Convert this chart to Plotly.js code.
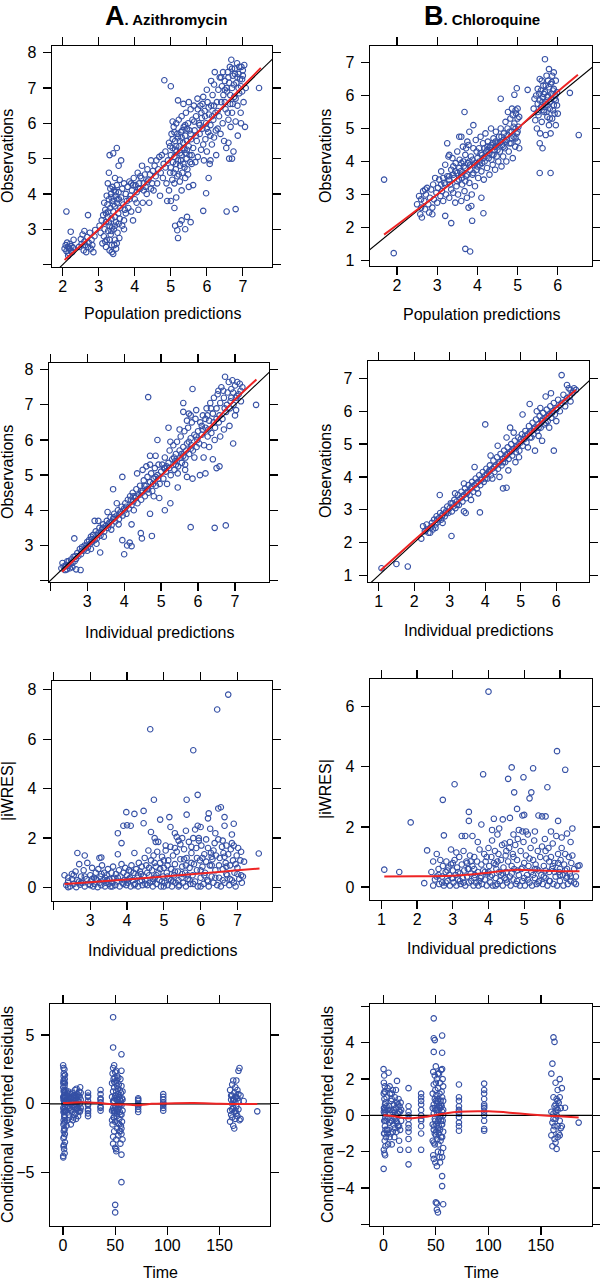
<!DOCTYPE html>
<html>
<head>
<meta charset="utf-8">
<script src="https://cdn.plot.ly/plotly-3.0.1.min.js"></script>
<style>
html, body { margin: 0; padding: 0; background: #fff; }
#graph { width: 600px; height: 1280px; }
</style>
</head>
<body>
<div id="graph"></div>
<script>
// ---- data: [x, y] pairs per panel ----

// A. Azithromycin, observations vs population predictions
const azPopPairs = [
  [2.05,2.45],[2.08,2.55],[2.1,2.38],[2.12,2.62],[2.14,2.5],[2.16,2.33],[2.18,2.45],[2.2,2.58],[2.22,2.4],[2.24,2.52],[2.26,2.35],[2.28,2.48],[2.1,3.5],[2.22,2.93],[2.3,2.7],[2.15,2.25],
  [2.45,2.5],[2.5,2.72],[2.55,2.85],[2.58,2.4],[2.6,2.95],[2.62,2.55],[2.65,2.35],[2.68,2.78],[2.7,3.4],[2.72,2.62],[2.75,2.9],[2.78,2.45],[2.8,2.7],[2.82,2.55],[2.85,2.35],[2.88,2.8],[2.9,2.98],[2.6,2.65],[2.52,2.58],[2.7,2.5],
  [3.02,3.1],[3.05,2.9],[3.08,3.25],[3.1,2.6],[3.12,3.4],[3.14,2.8],[3.16,3.0],[3.18,3.55],[3.2,2.5],[3.2,3.2],[3.22,2.7],[3.24,3.7],[3.25,3.35],[3.26,2.95],[3.28,3.85],[3.3,2.4],[3.3,3.1],[3.32,3.6],[3.33,2.85],[3.34,4.0],[3.35,3.3],[3.36,2.55],[3.38,3.8],[3.38,4.2],[3.4,2.3],[3.4,3.5],[3.42,3.0],[3.42,4.1],[3.44,3.65],[3.45,2.7],[3.46,3.95],[3.48,3.2],[3.5,4.25],[3.5,3.75],[3.52,2.9],[3.54,3.45],[3.55,4.05],[3.56,3.85],[3.58,3.3],[3.6,3.6],[3.48,2.45],[3.36,2.35],[3.25,4.3],[3.28,4.6],[3.3,5.1],[3.4,5.15],[3.5,5.3],[3.45,4.45],[3.55,4.8],[3.62,4.95],[3.58,4.4],[3.65,3.1],[3.7,3.0],[3.7,3.25],
  [3.15,3.75],[3.18,2.65],[3.22,3.95],[3.26,3.5],[3.3,2.7],[3.32,4.15],[3.35,3.9],[3.37,3.05],[3.4,3.7],[3.43,2.55],[3.45,3.35],[3.47,4.05],[3.5,2.6],[3.52,3.85],[3.55,3.15],[3.57,2.75],[3.35,2.95],[3.28,3.2],[3.2,3.45],[3.45,3.1],
  [3.62,3.9],[3.65,4.15],[3.68,3.7],[3.7,4.3],[3.72,3.55],[3.75,4.0],[3.78,3.8],[3.8,4.2],[3.82,3.6],[3.85,4.35],[3.88,3.95],[3.9,3.5],[3.92,4.1],[3.95,3.25],[3.97,4.45],[4.0,3.85],[4.02,4.25],[4.05,4.05],[4.08,4.6],[4.1,3.55],[4.12,4.3],[4.15,4.15],[4.18,4.45],[4.2,4.8],[4.22,3.75],[4.25,4.3],[4.28,4.55],[4.3,4.2],[4.33,4.0],[4.35,4.7],[4.38,4.4],[4.4,3.75],[4.42,4.55],[4.45,4.95],[4.48,4.3],[4.5,4.65],
  [3.75,3.45],[3.85,3.85],[3.95,4.25],[4.05,3.75],[4.15,4.5],[4.25,4.1],[4.35,4.35],[4.45,4.15],[3.9,4.3],[4.1,4.15],
  [4.52,4.1],[4.55,4.8],[4.58,4.5],[4.6,4.95],[4.62,4.3],[4.65,4.7],[4.68,5.05],[4.7,3.95],[4.72,4.6],[4.75,5.1],[4.78,4.45],[4.8,4.85],[4.82,7.22],[4.85,5.2],[4.88,4.3],[4.9,3.8],[4.92,4.95],[4.95,4.1],[4.98,5.35],[5.0,3.8],[5.0,7.05],[4.85,4.75],
  [4.95,5.45],[4.98,4.6],[5.0,5.1],[5.02,5.7],[5.04,4.4],[5.05,5.3],[5.06,4.9],[5.08,5.9],[5.1,4.3],[5.1,5.05],[5.12,5.5],[5.14,4.7],[5.15,6.0],[5.16,5.2],[5.18,4.5],[5.2,5.6],[5.2,4.95],[5.22,6.1],[5.24,5.35],[5.25,4.35],[5.26,4.8],[5.28,5.75],[5.3,5.1],[5.3,6.2],[5.32,4.6],[5.34,5.45],[5.35,4.85],[5.36,5.9],[5.38,5.25],[5.4,4.45],[5.4,5.65],[5.42,6.3],[5.44,5.0],[5.45,5.5],[5.46,4.7],[5.48,6.0],[5.5,5.35],[5.5,4.2],[5.52,5.8],[5.54,4.9],[5.55,6.4],[5.56,5.55],[5.58,5.1],[5.6,6.1],[5.2,6.65],[5.35,6.55],[5.5,6.6],[5.1,5.75],[5.05,6.05],
  [5.0,4.75],[5.05,5.55],[5.08,4.6],[5.12,5.25],[5.15,4.85],[5.18,5.7],[5.22,4.55],[5.25,5.15],[5.28,4.95],[5.32,5.8],[5.35,5.3],[5.38,4.75],[5.42,5.15],[5.45,5.85],[5.48,4.55],[5.52,5.1],[5.55,5.7],[5.58,4.85],[5.25,5.5],[5.15,5.35],[5.4,5.95],[5.3,5.6],[5.45,5.25],
  [5.1,3.6],[5.12,3.1],[5.18,2.97],[5.2,2.75],[5.25,3.15],[5.3,3.25],[5.4,3.0],[5.45,3.35],[5.55,3.2],[5.15,3.9],[5.3,4.1],[5.62,4.25],[5.9,3.52],[5.98,4.02],[6.05,4.45],[6.55,3.5],[6.8,3.57],
  [5.62,5.3],[5.64,6.5],[5.66,5.8],[5.68,4.9],[5.7,6.2],[5.72,5.5],[5.74,6.7],[5.75,5.05],[5.78,6.0],[5.8,5.7],[5.82,6.5],[5.84,5.25],[5.86,6.15],[5.88,5.85],[5.9,6.75],[5.92,4.95],[5.94,6.35],[5.96,5.55],[5.98,6.0],[6.0,5.2],[6.02,6.6],[6.04,5.75],[6.06,6.25],[6.08,4.85],[6.1,5.95],[6.12,6.5],[6.14,5.4],[6.16,6.8],[6.18,6.1],[6.2,5.6],[6.22,7.45],[6.24,6.3],[6.26,5.1],[6.28,6.6],[6.3,5.85],[6.12,7.2],[6.2,7.1],[6.0,6.95],[6.1,4.95],
  [5.65,6.05],[5.7,5.65],[5.75,6.4],[5.8,5.95],[5.85,6.3],[5.9,5.4],[5.95,6.2],[6.0,5.85],[6.05,6.45],[6.1,5.65],[6.15,6.2],[6.2,6.5],[6.25,5.8],[6.3,6.35],[5.88,6.55],
  [6.32,6.95],[6.34,6.2],[6.36,7.3],[6.38,5.7],[6.4,6.6],[6.42,7.05],[6.44,6.0],[6.46,6.8],[6.48,5.5],[6.5,7.2],[6.52,6.4],[6.54,5.3],[6.56,6.9],[6.58,7.45],[6.6,6.1],[6.62,5.0],[6.64,7.6],[6.65,6.55],[6.66,5.9],[6.68,7.8],[6.7,7.0],[6.7,6.3],[6.72,7.35],[6.74,5.2],[6.76,6.75],[6.78,7.55],[6.8,6.05],[6.82,7.15],[6.84,7.7],[6.85,6.5],[6.86,5.65],[6.88,7.4],[6.9,6.85],[6.92,7.25],[6.94,6.3],[6.96,7.6],[6.98,6.9],[7.0,7.35],[7.02,6.6],[7.04,7.65],[7.06,5.9],[7.08,7.0],[7.45,7.0],[6.6,5.45],[6.7,5.0],[6.95,6.0],
  [6.4,7.3],[6.45,7.45],[6.5,6.6],[6.55,7.0],[6.6,7.3],[6.65,6.8],[6.7,7.55],[6.75,7.1],[6.8,6.7],[6.85,7.3],[6.9,7.6],[6.95,7.05],[7.0,7.5],[6.62,7.15],[6.72,6.55],[6.78,7.4],[6.88,7.0],[6.98,7.25],[6.5,6.95],[6.58,6.3]
];
const azPopSmoothX = [2.05, 3, 4, 5, 6, 7, 7.5];
const azPopSmoothY = [2.13, 3.0, 4.0, 4.98, 6.0, 7.05, 7.57];

// B. Chloroquine, observations vs population predictions
const clPopPairs = [
  [1.68,3.45],[1.92,1.22],[3.7,1.35],[3.82,1.27],[3.35,2.13],[3.87,2.2],[4.15,2.43],[4.1,2.9],[3.2,2.35],[6.52,4.8],[5.55,3.65],[5.82,3.65],[5.62,4.4],[5.55,4.55],[6.3,6.08],[5.25,6.17],[4.98,6.22],[4.58,5.9],[4.92,6.02],[3.68,5.5],[3.9,5.1],[3.55,4.75],[3.8,4.9],[3.25,4.55],[3.3,4.2],[3.6,4.75],[3.75,4.6],[3.72,4.4],[3.85,2.65],[3.78,2.6],
  [2.5,2.7],[2.55,2.95],[2.58,2.4],[2.6,2.6],[2.62,2.3],[2.65,3.1],[2.68,2.8],[2.7,2.55],[2.72,3.0],[2.75,3.2],[2.78,2.7],[2.8,2.45],[2.82,2.9],[2.85,3.15],[2.88,2.6],[2.9,3.3],[2.92,2.85],[2.95,3.5],[2.98,3.05],[2.88,2.4],[2.6,2.85],[2.7,3.15],
  [3.0,2.75],[3.02,3.2],[3.05,3.45],[3.08,2.95],[3.1,3.7],[3.12,3.1],[3.15,2.8],[3.18,3.35],[3.2,3.9],[3.22,3.0],[3.25,3.55],[3.28,4.15],[3.3,2.9],[3.32,3.3],[3.35,3.75],[3.38,4.1],[3.4,3.05],[3.42,3.5],[3.45,2.75],[3.46,3.95],[3.48,3.25],[3.5,4.3],[3.5,3.65],[3.3,3.55],[3.15,3.5],[3.4,3.85],[3.1,3.3],[3.35,3.15],
  [3.52,3.0],[3.54,3.45],[3.56,4.05],[3.58,3.7],[3.6,2.8],[3.62,3.3],[3.64,4.45],[3.66,3.85],[3.68,3.1],[3.7,4.2],[3.72,3.55],[3.74,2.9],[3.76,3.95],[3.78,4.5],[3.8,3.35],[3.82,3.75],[3.84,4.15],[3.86,3.0],[3.88,3.6],[3.9,4.4],[3.92,3.9],[3.94,3.25],[3.96,4.65],[3.98,3.75],[4.0,4.1],[3.6,3.6],[3.7,3.4],[3.8,4.0],[3.9,3.65],[3.65,4.0],
  [4.02,3.5],[4.04,4.4],[4.06,3.9],[4.08,4.75],[4.1,3.7],[4.12,4.2],[4.14,4.55],[4.16,3.45],[4.18,4.0],[4.2,4.85],[4.22,4.3],[4.24,3.8],[4.26,4.6],[4.28,4.1],[4.3,3.6],[4.32,4.45],[4.34,5.0],[4.36,4.2],[4.38,3.9],[4.4,4.7],[4.42,4.35],[4.44,3.75],[4.46,4.9],[4.48,4.15],[4.5,4.55],[4.15,4.1],[4.25,4.35],[4.35,4.05],[4.45,4.45],[4.05,4.0],
  [4.52,4.0],[4.54,4.75],[4.56,4.3],[4.58,5.0],[4.6,3.85],[4.62,4.5],[4.64,4.15],[4.66,4.85],[4.68,4.4],[4.7,5.2],[4.72,4.0],[4.74,4.65],[4.76,5.5],[4.78,4.3],[4.8,4.9],[4.82,5.3],[4.84,4.55],[4.86,5.6],[4.88,4.1],[4.9,4.75],[4.92,5.15],[4.94,4.45],[4.96,5.45],[4.98,4.85],[5.0,5.6],[5.0,4.6],[5.02,5.05],[5.04,4.4],[5.04,5.35],[4.95,5.0],[4.85,4.7],[4.75,5.0],[4.65,4.65],
  [3.2,3.3],[3.3,3.45],[3.4,3.6],[3.5,3.4],[3.55,3.8],[3.62,3.5],[3.7,3.8],[3.75,3.6],[3.82,3.9],[3.88,4.05],[3.95,3.95],[4.0,3.85],[4.08,4.25],[4.12,3.95],[4.2,4.15],[4.25,4.45],[4.3,4.25],[4.35,4.5],[4.4,4.2],[4.45,4.6],[4.5,4.35],[4.55,4.55],[4.6,4.75],[4.65,4.45],[4.7,4.6],[4.75,4.8],[4.8,4.55],[4.85,4.9],[4.9,5.05],[4.95,4.7],[5.0,4.9],[5.0,5.3],[4.88,5.4],[4.95,5.55],[3.45,3.7],[3.6,3.95],[3.98,4.3],[4.18,4.4],[4.38,4.55],[4.58,4.6],
  [5.4,5.6],[5.42,5.9],[5.44,5.25],[5.46,6.0],[5.48,5.0],[5.5,5.75],[5.5,6.2],[5.52,5.4],[5.54,6.05],[5.56,4.85],[5.58,5.65],[5.6,6.45],[5.6,5.2],[5.62,5.95],[5.64,6.3],[5.66,5.5],[5.68,7.1],[5.68,6.1],[5.7,4.8],[5.7,5.8],[5.72,6.6],[5.74,5.35],[5.76,6.0],[5.78,6.8],[5.78,5.1],[5.8,5.6],[5.82,6.35],[5.82,4.85],[5.84,5.9],[5.86,6.6],[5.86,5.3],[5.88,6.15],[5.9,5.7],[5.9,6.7],[5.92,5.45],[5.94,6.0],[5.95,5.1],[5.95,6.45],[5.98,5.7],[5.98,6.1],[6.0,5.45],[5.55,6.5],[5.65,5.55],[5.75,5.7],
  [5.5,5.5],[5.55,5.85],[5.6,5.65],[5.65,6.05],[5.7,6.3],[5.72,5.5],[5.75,5.95],[5.78,6.25],[5.8,5.8],[5.84,6.05],[5.88,5.55],[5.9,6.2],[5.92,5.9],[5.62,5.8],[5.68,5.75],[5.76,6.45],[5.85,6.4],[5.95,5.85],[5.8,5.3],[5.58,6.15]
];
const clPopSmoothX = [1.68, 3, 4, 5, 6, 6.5];
const clPopSmoothY = [1.78, 3.0, 3.98, 5.0, 6.12, 6.63];

// A. Azithromycin, observations vs individual predictions
const azIndPairs = [
  [2.3,2.35],[2.33,2.5],[2.36,2.4],[2.4,2.3],[2.43,2.45],[2.46,2.55],[2.5,2.42],[2.53,2.35],[2.56,2.6],[2.6,2.5],[2.63,2.68],[2.66,2.55],[2.7,2.62],[2.73,2.78],[2.76,2.7],[2.8,2.9],[2.83,2.75],[2.86,2.95],[2.9,2.85],[2.93,3.0],[2.96,2.92],[3.0,3.1],[2.5,2.55],[2.7,2.32],[2.82,2.3],[2.6,2.38],[2.45,2.32],
  [3.02,2.95],[3.05,3.15],[3.08,3.05],[3.1,3.25],[3.13,3.1],[3.16,3.3],[3.2,3.15],[3.23,3.4],[3.26,3.2],[3.3,3.35],[3.33,3.5],[3.36,3.28],[3.4,3.45],[3.43,3.6],[3.46,3.4],[3.5,3.55],[3.53,3.7],[3.56,3.5],[3.6,3.65],[3.63,3.8],[3.66,3.58],[3.7,3.75],[3.73,3.9],[3.76,3.68],[3.8,3.85],[3.83,4.0],[3.86,3.75],[3.9,3.95],[3.93,4.1],[3.96,3.85],[4.0,4.05],[3.25,3.05],[3.45,3.25],[3.65,3.45],[3.85,3.6],[3.35,2.8],[3.1,2.9],[3.2,3.7],[3.3,3.7],[3.7,4.6],[3.95,4.95],[2.65,3.2],[3.0,2.85],[3.55,3.95],[3.8,4.2],
  [4.03,4.2],[4.06,3.9],[4.1,4.3],[4.13,4.05],[4.16,4.4],[4.2,4.15],[4.23,4.5],[4.26,4.0],[4.3,4.35],[4.33,4.6],[4.36,4.2],[4.4,4.45],[4.43,4.7],[4.46,4.3],[4.5,4.55],[4.53,4.85],[4.56,4.4],[4.6,4.7],[4.63,4.95],[4.66,4.5],[4.7,4.8],[4.73,5.05],[4.76,4.55],[4.8,4.9],[4.83,5.2],[4.86,4.7],[4.9,5.0],[4.93,5.3],[4.96,4.75],[5.0,5.1],[4.2,3.6],[4.05,4.1],[4.25,4.25],[4.45,4.55],[4.65,4.6],[4.85,4.95],[4.5,5.15],[4.7,5.3],[4.8,4.4],[4.95,4.35],[4.7,3.9],[4.65,7.22],[4.7,5.55],[4.85,5.55],[4.9,6.0],[4.35,5.05],[4.6,5.25],
  [3.95,3.15],[4.0,2.75],[4.08,3.0],[4.15,3.08],[4.2,2.98],[4.45,3.35],[4.48,3.2],[4.75,3.27],[5.8,3.52],[6.45,3.5],[6.75,3.57],[5.1,4.0],[5.25,4.2],[5.45,4.65],[6.05,5.0],[6.2,5.05],[6.4,5.45],[6.5,5.2],[6.58,5.25],[6.95,5.9],[5.85,7.45],[7.57,7.0],[5.2,6.35],[5.6,7.05],[5.6,6.8],[5.75,6.75],[5.7,6.55],[5.85,4.9],[5.7,4.95],[5.65,5.15],
  [5.03,5.3],[5.06,4.9],[5.1,5.5],[5.13,5.1],[5.16,4.75],[5.2,5.35],[5.23,5.7],[5.26,5.0],[5.3,5.45],[5.33,5.85],[5.36,5.15],[5.4,5.6],[5.43,5.95],[5.46,5.25],[5.5,5.7],[5.53,6.1],[5.56,5.35],[5.6,5.8],[5.63,6.25],[5.66,5.5],[5.7,5.9],[5.73,6.35],[5.76,5.6],[5.8,6.05],[5.83,6.5],[5.86,5.7],[5.9,6.15],[5.93,6.6],[5.96,5.8],[6.0,6.25],[5.15,5.25],[5.35,5.5],[5.55,5.6],[5.75,5.95],[5.95,6.1],[5.45,5.05],[5.65,5.3],[5.9,5.5],[5.25,5.95],[5.5,6.3],[5.8,6.7],[5.95,6.85],
  [6.03,5.9],[6.06,6.5],[6.1,6.15],[6.13,6.7],[6.16,5.85],[6.2,6.35],[6.23,6.9],[6.26,6.1],[6.3,6.55],[6.33,7.05],[6.36,6.2],[6.4,6.75],[6.43,7.2],[6.46,6.35],[6.5,6.9],[6.53,7.3],[6.56,6.5],[6.6,7.05],[6.63,7.5],[6.66,6.6],[6.7,7.2],[6.73,7.8],[6.76,6.8],[6.8,7.35],[6.83,7.65],[6.86,6.9],[6.9,7.45],[6.93,7.7],[6.96,7.0],[7.0,7.55],[7.03,6.85],[7.06,7.65],[7.1,7.3],[7.13,7.6],[7.16,7.1],[7.2,7.5],[6.15,5.5],[6.3,5.8],[6.45,6.0],[6.6,6.1],[6.7,6.3],[6.85,6.4],[7.0,6.7],[6.25,6.7],[6.55,7.4],[6.9,7.2],[7.05,7.25],[6.1,6.4],[6.35,6.9],
  [2.4,2.4],[2.55,2.48],[2.68,2.7],[2.85,2.85],[2.98,3.0],[3.12,3.18],[3.28,3.3],[3.42,3.5],[3.58,3.6],[3.72,3.8],[3.88,3.9],[4.02,4.0],[4.18,4.3],[4.32,4.4],[4.48,4.5],[4.62,4.6],[4.78,4.75],[4.92,4.9],[5.08,5.2],[5.22,5.2],[5.38,5.4],[5.52,5.5],[5.68,5.7],[5.82,5.85],[5.98,6.0],[6.12,6.3],[6.28,6.3],[6.42,6.5],[6.58,6.7],[6.72,6.9],[6.88,7.1],[7.02,7.2],[7.15,7.4],[6.68,7.4],[6.78,7.0],[6.95,7.35],[6.5,6.6],[6.2,6.6],[5.4,5.3],[5.6,5.55],[5.8,5.75],[5.1,5.2],[4.55,4.7],[4.25,4.4]
];
const azIndSmoothX = [2.32, 3, 4, 5, 6, 7, 7.58];
const azIndSmoothY = [2.25, 2.95, 3.98, 4.98, 6.0, 7.15, 7.72];

// B. Chloroquine, observations vs individual predictions
const clIndPairs = [
  [1.08,1.22],[1.5,1.35],[1.82,1.27],
  [2.2,2.12],[2.25,2.5],[2.3,2.35],[2.35,2.55],[2.4,2.3],[2.45,2.45],[2.5,2.6],[2.53,2.4],[2.56,2.7],[2.6,2.55],[2.63,2.8],[2.66,2.62],[2.7,2.75],[2.73,2.9],[2.76,2.7],[2.8,2.85],[2.83,3.0],[2.86,2.8],[2.9,2.95],[2.93,3.1],[2.96,2.9],[3.0,3.05],[2.45,2.3],[2.6,2.45],[2.72,3.45],[2.8,2.6],[2.35,2.4],
  [3.03,3.2],[3.06,2.95],[3.1,3.1],[3.13,3.3],[3.16,3.05],[3.2,3.25],[3.23,3.45],[3.26,3.15],[3.3,3.35],[3.33,3.55],[3.36,3.25],[3.4,3.45],[3.43,3.65],[3.46,3.35],[3.5,3.55],[3.53,3.75],[3.56,3.45],[3.6,3.65],[3.63,3.85],[3.66,3.55],[3.7,3.75],[3.73,3.95],[3.76,3.65],[3.8,3.85],[3.83,4.05],[3.86,3.75],[3.9,3.95],[3.93,4.15],[3.96,3.85],[4.0,4.05],[3.05,2.2],[3.85,2.92],[3.4,2.95],[3.45,2.9],[3.6,3.3],[3.8,3.5],[3.15,3.5],[3.4,3.8],[3.7,4.3],
  [4.03,4.25],[4.06,3.95],[4.1,4.15],[4.13,4.35],[4.16,4.05],[4.2,4.25],[4.23,4.5],[4.26,4.15],[4.3,4.35],[4.33,4.6],[4.36,4.25],[4.4,4.45],[4.43,4.7],[4.46,4.35],[4.5,4.55],[4.53,4.8],[4.56,4.45],[4.6,4.65],[4.63,4.9],[4.66,4.55],[4.7,4.75],[4.73,5.0],[4.76,4.65],[4.8,4.85],[4.83,5.1],[4.86,4.75],[4.9,4.95],[4.93,5.2],[4.96,4.8],[5.0,5.05],[4.0,5.6],[4.5,3.65],[4.6,3.67],[4.2,3.95],[4.4,4.0],[4.65,4.2],[4.85,4.45],[4.35,4.95],[4.7,5.5],[4.6,5.2],[4.8,5.35],[4.15,4.65],[4.95,4.6],
  [5.03,5.3],[5.06,4.95],[5.1,5.15],[5.13,5.4],[5.16,5.05],[5.2,5.3],[5.23,5.55],[5.26,5.2],[5.3,5.4],[5.33,5.65],[5.36,5.3],[5.4,5.5],[5.43,5.75],[5.46,5.4],[5.5,5.6],[5.53,5.85],[5.56,5.5],[5.6,5.7],[5.63,5.95],[5.66,5.6],[5.7,5.8],[5.73,6.05],[5.76,5.7],[5.8,5.9],[5.83,6.15],[5.86,5.8],[5.9,6.0],[5.93,6.25],[5.96,5.9],[6.0,6.1],[6.05,6.35],[6.1,6.0],[6.15,6.25],[6.2,6.5],[6.25,6.15],[6.3,6.4],[6.35,6.7],[6.4,6.3],[6.45,6.55],[6.5,6.7],[6.55,6.65],[5.93,4.8],[6.15,7.1],[5.25,6.22],[5.05,5.9],[5.4,4.8],[5.6,5.1],[5.2,4.9],[5.5,5.25],[5.8,5.5],[6.0,5.7],[5.7,6.45],[5.85,6.55],[6.3,6.8],[5.45,6.0],[5.55,6.1],[6.4,6.65],
  [2.5,2.5],[2.65,2.7],[2.78,2.8],[2.9,2.9],[3.08,3.2],[3.2,3.15],[3.35,3.4],[3.48,3.5],[3.62,3.7],[3.75,3.8],[3.88,3.9],[4.0,3.95],[4.12,4.2],[4.25,4.3],[4.38,4.4],[4.5,4.45],[4.62,4.7],[4.75,4.8],[4.88,4.9],[5.0,5.15],[5.12,5.25],[5.25,5.35],[5.38,5.45],[5.5,5.5],[5.62,5.75],[5.75,5.85],[5.88,5.95],[6.0,6.05],[6.12,6.2],[6.25,6.3],[6.38,6.45],[6.48,6.6],[5.3,5.2],[5.7,5.65],[4.55,4.6],[4.05,4.1]
];
const clIndSmoothX = [1.05, 2, 3, 4, 5, 6, 6.55];
const clIndSmoothY = [1.15, 2.07, 3.02, 4.0, 5.05, 6.12, 6.65];

// A. Azithromycin, |iWRES| vs individual predictions
const azAbsPairs = [
  [2.3,0.5],[2.35,0.1],[2.4,0.25],[2.45,0.05],[2.5,0.35],[2.55,0.15],[2.6,0.65],[2.62,0.02],[2.65,0.3],[2.7,0.95],[2.72,0.12],[2.75,0.45],[2.8,0.2],[2.82,0.7],[2.85,0.05],[2.9,0.35],[2.92,1.0],[2.95,0.15],[3.0,0.5],[3.02,0.25],[3.05,0.8],[3.08,0.05],[3.1,0.4],[3.12,0.15],[3.15,0.6],[3.18,0.3],[3.2,0.02],[3.22,0.75],[3.25,0.2],[3.28,0.45],[3.3,0.1],[3.32,0.9],[3.35,0.3],[3.38,0.6],[3.4,0.05],[3.42,0.2],[3.45,0.5],[3.48,0.75],[3.5,0.15],[2.65,1.4],[2.85,1.3],[3.25,1.2],[3.3,1.22],[2.5,0.55],[2.75,0.2],[3.05,0.35],[3.4,0.4],[2.4,0.02],
  [3.52,0.35],[3.55,0.05],[3.58,0.6],[3.6,0.2],[3.62,0.85],[3.65,0.4],[3.68,0.1],[3.7,0.55],[3.72,0.25],[3.75,1.35],[3.78,0.7],[3.8,0.05],[3.82,0.45],[3.85,0.95],[3.88,0.2],[3.9,0.6],[3.92,0.3],[3.95,0.8],[3.98,0.1],[4.0,0.5],[4.02,0.2],[4.05,0.7],[4.08,0.4],[4.1,0.05],[4.12,0.9],[4.15,0.3],[4.18,0.6],[4.2,1.4],[4.22,0.15],[4.25,0.75],[4.28,0.4],[4.3,0.05],[4.32,1.0],[4.35,0.25],[4.38,0.55],[4.4,0.85],[4.42,0.1],[4.45,0.45],[4.48,1.2],[3.75,2.2],[3.85,1.8],[3.9,2.5],[4.0,2.52],[4.1,2.5],[3.98,3.05],[4.2,2.98],[4.45,3.1],[4.45,2.6],[3.6,0.35],[4.0,0.3],[4.3,0.5],[4.1,0.65],
  [4.5,0.3],[4.52,0.9],[4.55,0.1],[4.58,1.5],[4.6,0.5],[4.62,0.2],[4.65,1.1],[4.68,0.7],[4.7,0.05],[4.72,1.3],[4.75,0.4],[4.78,0.85],[4.8,0.15],[4.82,1.45],[4.85,0.6],[4.88,0.3],[4.9,1.0],[4.92,0.05],[4.95,1.25],[4.98,0.45],[5.0,0.8],[5.02,0.2],[5.05,1.5],[5.08,0.6],[5.1,0.1],[5.12,1.1],[5.15,0.35],[5.18,1.65],[5.2,0.75],[5.22,0.05],[5.25,1.3],[5.28,0.5],[5.3,0.95],[5.32,0.2],[5.35,1.45],[5.38,0.65],[5.4,1.9],[5.42,0.1],[5.45,1.15],[5.48,0.4],[5.5,0.85],[4.63,6.4],[4.73,3.55],[4.65,2.25],[4.75,2.0],[4.78,1.85],[4.85,1.85],[4.9,2.75],[5.15,2.85],[5.18,2.45],[5.35,2.05],[5.3,2.2],[5.45,1.75],[5.05,1.7],[4.55,0.6],[4.7,0.35],[4.95,0.25],[5.1,0.45],[5.25,0.25],[5.4,0.3],
  [5.52,0.2],[5.55,1.55],[5.58,0.6],[5.6,0.05],[5.62,1.2],[5.65,0.35],[5.68,1.85],[5.7,0.8],[5.72,0.15],[5.75,1.4],[5.78,0.5],[5.8,2.0],[5.82,0.95],[5.85,0.25],[5.88,1.6],[5.9,0.7],[5.92,0.05],[5.95,1.9],[5.98,1.1],[6.0,0.4],[6.02,1.7],[6.05,0.85],[6.08,0.15],[6.1,1.35],[6.12,0.6],[6.15,1.05],[6.18,0.3],[6.2,1.6],[6.22,0.05],[6.25,0.9],[6.28,1.4],[6.3,0.45],[6.32,1.15],[6.35,0.2],[6.38,1.8],[6.4,0.7],[6.42,1.3],[6.45,0.1],[6.48,1.95],[5.8,5.55],[5.92,3.75],[5.62,3.55],[5.62,2.95],[5.5,2.0],[5.6,2.3],[5.85,2.35],[5.92,2.5],[6.0,2.45],[6.2,2.8],[6.22,3.0],[6.26,2.38],[6.45,7.2],[6.48,3.2],[5.95,2.0],[6.15,1.95],[6.4,2.2],[5.65,0.5],[6.0,0.7],[6.3,0.9],[5.75,1.0],
  [6.5,0.4],[6.52,1.2],[6.55,0.05],[6.58,1.65],[6.6,0.75],[6.62,1.4],[6.65,0.2],[6.68,1.0],[6.7,1.7],[6.72,0.5],[6.75,1.35],[6.78,0.1],[6.8,0.9],[6.82,1.55],[6.85,0.3],[6.88,1.1],[6.9,1.7],[6.92,0.6],[6.95,0.05],[6.98,1.3],[7.0,0.8],[7.02,1.6],[7.05,0.35],[7.08,1.1],[7.1,0.5],[7.12,0.2],[7.15,0.45],[7.18,1.05],[6.55,3.25],[6.65,2.85],[6.65,2.5],[6.75,7.8],[6.9,2.58],[6.85,2.15],[7.58,1.38],[6.6,1.9],[6.7,0.55],[6.95,0.95],[7.1,1.45],
  [2.4,0.4],[2.55,0.5],[2.7,0.25],[2.85,0.45],[3.0,0.1],[3.15,0.35],[3.3,0.55],[3.45,0.3],[3.6,0.05],[3.75,0.4],[3.9,0.15],[4.05,0.35],[4.2,0.1],[4.35,0.65],[4.5,0.15],[4.6,0.8],[4.7,0.25],[4.8,0.5],[4.9,0.75],[5.0,0.05],[5.1,0.9],[5.2,0.3],[5.3,0.65],[5.4,0.05],[5.5,0.55],[5.6,0.9],[5.7,0.3],[5.8,0.15],[5.9,1.2],[6.0,0.05],[6.1,0.5],[6.2,0.25],[6.3,1.25],[6.4,0.4],[6.5,0.9],[6.6,0.3],[6.7,0.85],[6.8,0.35],[6.9,0.2],[7.0,0.55],[5.0,1.1],[5.3,1.6],[5.55,1.15],[5.75,1.65],[6.05,1.2],[6.35,1.5],[6.65,1.25],[6.85,1.8],[4.75,1.0],[4.4,0.3]
];
const azAbsSmoothX = [2.3, 3, 4, 5, 6, 7, 7.6];
const azAbsSmoothY = [0.15, 0.22, 0.33, 0.45, 0.57, 0.7, 0.77];

// B. Chloroquine, |iWRES| vs individual predictions
const clAbsPairs = [
  [1.08,0.58],[1.5,0.5],[1.82,2.15],[2.2,0.13],[2.28,1.22],[2.45,0.05],[2.72,2.9],[2.75,1.72],[3.05,3.42],[3.45,2.5],[3.45,2.2],[3.8,2.08],[3.85,3.75],[4.0,6.5],[4.15,2.27],[4.4,2.25],[4.55,3.6],[4.6,2.3],[4.65,3.98],[4.72,3.15],[4.8,2.6],[4.95,2.38],[5.0,2.4],[5.15,2.95],[5.2,3.15],[5.25,3.95],[4.98,3.65],[5.4,2.38],[5.5,2.35],[5.6,2.35],[5.65,3.32],[5.92,4.52],[5.95,2.2],[6.15,3.9],[6.2,1.78],[6.35,1.95],[6.3,1.5],[6.4,0.15],[3.25,1.7],[3.35,1.7],[3.1,1.15],[2.95,1.25],[3.55,1.7],[4.1,1.9],[4.25,1.75],[4.3,1.95],[4.95,1.85],[5.05,1.85],[5.3,1.85],[5.75,1.85],[6.05,1.65],
  [2.4,0.5],[2.45,0.85],[2.5,0.25],[2.55,1.1],[2.6,0.6],[2.62,0.1],[2.65,0.9],[2.7,0.35],[2.72,0.7],[2.75,0.05],[2.8,0.5],[2.82,0.85],[2.85,0.2],[2.88,0.65],[2.9,0.4],[2.92,0.05],[2.95,0.75],[2.98,0.3],[3.0,0.55],[3.02,0.15],[3.05,0.9],[3.08,0.4],[3.1,0.05],[3.12,0.65],[3.15,0.25],[3.18,1.0],[3.2,0.45],[3.22,0.1],[3.25,0.75],[3.28,0.3],[3.3,1.2],[3.32,0.55],[3.35,0.05],[3.38,0.85],[3.4,0.35],[3.42,0.6],[3.45,0.15],[3.48,1.05],[3.5,0.45],[2.6,0.4],[2.8,0.15],[3.0,0.8],[3.2,0.2],[3.4,0.8],
  [3.52,0.2],[3.55,0.7],[3.58,0.05],[3.6,1.0],[3.62,0.4],[3.65,0.15],[3.68,0.85],[3.7,0.5],[3.72,0.05],[3.75,1.25],[3.78,0.3],[3.8,0.75],[3.82,0.1],[3.85,0.55],[3.88,1.1],[3.9,0.25],[3.92,0.85],[3.95,0.05],[3.98,0.45],[4.0,1.3],[4.02,0.7],[4.05,0.15],[4.08,1.0],[4.1,0.4],[4.12,0.05],[4.15,0.8],[4.18,1.2],[4.2,0.3],[4.22,0.6],[4.25,0.1],[4.28,1.1],[4.3,0.5],[4.32,0.2],[4.35,0.9],[4.38,1.4],[4.4,0.05],[4.42,0.65],[4.45,0.3],[4.48,1.05],[3.6,0.6],[3.8,0.35],[4.0,0.5],[4.2,0.75],[4.4,0.45],[3.7,1.5],[4.1,1.55],[4.45,1.45],
  [4.5,0.5],[4.52,0.15],[4.55,0.85],[4.58,1.3],[4.6,0.35],[4.62,0.05],[4.65,0.7],[4.68,1.1],[4.7,0.25],[4.72,0.6],[4.75,1.4],[4.78,0.1],[4.8,0.9],[4.82,1.6],[4.85,0.4],[4.88,0.05],[4.9,1.2],[4.92,0.6],[4.95,0.2],[4.98,1.5],[5.0,0.8],[5.02,0.05],[5.05,1.05],[5.08,0.4],[5.1,1.75],[5.12,0.7],[5.15,0.15],[5.18,1.3],[5.2,0.5],[5.22,0.05],[5.25,0.9],[5.28,1.55],[5.3,0.3],[5.32,0.75],[5.35,0.1],[5.38,1.2],[5.4,0.55],[5.42,0.2],[5.45,1.0],[5.48,0.4],[5.5,1.35],[4.7,1.75],[4.85,1.9],[4.6,1.5],[5.0,0.3],[5.3,0.6],[4.8,0.55],
  [5.52,0.1],[5.55,0.7],[5.58,1.6],[5.6,0.3],[5.62,0.95],[5.65,0.05],[5.68,1.3],[5.7,0.5],[5.72,0.2],[5.75,1.0],[5.78,0.6],[5.8,1.45],[5.82,0.1],[5.85,0.8],[5.88,0.35],[5.9,1.7],[5.92,0.05],[5.95,1.1],[5.98,0.5],[6.0,0.2],[6.02,0.9],[6.05,1.3],[6.08,0.4],[6.1,0.05],[6.12,0.75],[6.15,1.1],[6.18,0.3],[6.2,0.6],[6.22,0.1],[6.25,1.0],[6.28,0.45],[6.3,0.2],[6.32,0.8],[6.35,1.05],[6.4,0.6],[6.45,0.35],[6.5,0.7],[6.55,0.72],[5.6,0.55],[5.8,0.7],[6.0,0.6],[6.2,0.35],[5.7,0.85],
  [2.55,0.35],[2.7,0.15],[2.85,0.55],[3.0,0.3],[3.15,0.5],[3.3,0.15],[3.45,0.6],[3.6,0.3],[3.75,0.2],[3.9,0.5],[4.05,0.35],[4.2,0.05],[4.35,0.4],[4.5,0.25],[4.65,0.45],[4.8,0.2],[4.95,0.65],[5.1,0.25],[5.25,0.4],[5.4,0.15],[5.55,0.35],[5.7,0.2],[5.85,0.5],[6.0,0.4],[6.15,0.55],[6.3,0.35],[6.45,0.1],[4.25,0.85],[4.7,1.0],[5.15,0.95],[5.6,1.2],[5.95,0.8],[3.95,1.0],[3.5,0.85],[4.5,1.2],[5.35,0.6]
];
const clAbsSmoothX = [1.08, 2, 3, 3.5, 4, 4.5, 4.8, 5.2, 6, 6.55];
const clAbsSmoothY = [0.35, 0.36, 0.38, 0.42, 0.48, 0.55, 0.58, 0.56, 0.53, 0.53];

// A. Azithromycin, CWRES vs time
const azTimePairs = [
  [0.2,2.8],[0.3,-3.9],[0.4,1.5],[0.5,-2.5],[0.6,0.3],[0.7,-1.2],[0.8,2.2],[0.9,-0.4],[1.0,1.0],[1.1,-3.3],[1.2,0.6],[1.3,-1.8],[1.4,2.5],[1.5,-0.8],[1.6,0.1],[1.7,1.8],[1.8,-2.2],[1.9,0.8],[2.0,-0.2],[0.3,1.2],[0.5,-1.5],[0.7,2.0],[0.9,-3.0],[1.1,0.4],[1.3,-0.6],[1.5,1.3],[1.7,-1.0],[1.9,-2.8],[0.4,-0.3],[0.6,1.7],[0.8,-2.0],[1.0,0.2],[1.2,-1.4],[1.4,0.9],[1.6,-3.6],[1.8,1.5],[2.2,0.5],[2.4,-0.5],[0.2,-3.8],[0.5,2.6],
  [0.3,0.5],[0.5,-0.6],[0.7,0.9],[0.9,1.6],[1.1,-2.4],[1.3,0.0],[1.5,-1.9],[1.7,0.5],[1.9,2.1],[0.6,-3.1],[1.2,-0.9],[1.8,-0.5],
  [2.5,1.0],[3,-0.5],[3.5,0.6],[4,-1.2],[4.5,0.2],[5,0.9],[5.5,-0.8],[6,0.4],[6.5,-0.3],[7,0.7],[7.5,-1.5],[8,0.1],[8.5,0.8],[9,-0.6],[9.5,0.3],[10,-1.0],[10.5,0.6],[11,-0.2],[11.5,1.0],[12,-0.7],[12.5,0.4],[13,1.1],[13.5,-0.4],[14,0.7],[14.5,-0.9],[15,0.2],[15.5,0.9],[16,-0.6],[16.5,1.2],[17,0.3],[3,0.3],[4,0.8],[5,-0.2],[6,-1.0],[7,0.0],[8,-0.4],[9,0.5],[10,0.1],[11,-0.8],[12,0.6],[13,-0.1],[14,0.2],[15,-0.5],[16,0.5],[17,-0.3],[2,-1.3],[3.5,-1.6],[5.5,0.5],[9.5,-1.2],[12.5,-1.1],[16.5,-0.5],
  [4,0.1],[6,0.2],[8,0.4],[10,0.6],[12,0.0],[14,-0.3],[16,0.0],[5,0.3],[7,-0.5],[9,-0.1],[11,0.4],[13,0.5],[15,0.6],[17,0.8],
  [24,0.8],[24,0.5],[24,0.2],[24,-0.1],[24,-0.4],[24,-0.7],[24,-0.9],[24,0.6],[24,0.0],[24,-0.5],
  [36,1.0],[36,0.7],[36,0.4],[36,0.1],[36,-0.2],[36,-0.5],[36,0.3],[36,-0.3],
  [47,1.5],[47,-0.5],[47,0.5],[47.5,2.2],[47.5,-1.5],[48,6.3],[48,4.1],[48,2.6],[48,-2.4],[48,0.9],[48,-0.3],[48.5,1.8],[48.5,-1.0],[49,2.8],[49,0.2],[49,-2.0],[49,1.2],[49.5,-0.7],[49.5,1.9],[50,-3.2],[50,0.6],[50,-1.3],[50,2.3],[50,-7.35],[50,-7.9],[50.5,-0.2],[50.5,1.5],[51,-3.45],[51,-3.3],[51,0.9],[51,-2.6],[51.5,1.7],[51.5,-0.9],[52,0.3],[52,-1.8],[52,2.0],[52.5,-0.4],[52.5,1.1],[53,-1.4],[53,0.7],[53,-2.3],[53.5,1.4],[53.5,-0.1],[54,-1.1],[54,0.5],[54,-2.0],[54.5,1.0],[54.5,-0.6],[55,-2.9],[55,1.8],[55,0.0],[55.5,-1.6],[55.5,0.8],[56,3.6],[56,-5.7],[56,-3.7],[56,2.4],[56,-2.2],[56,-0.8],[56,1.3],[56.5,0.4],[56.5,-1.3],[57,-2.6],[57,0.9],[57,-0.5],[48,-2.9],[49,-1.0],[51,2.4],[53,1.9],[55,-2.0],[47,-1.2],
  [48,0.2],[48.5,-0.5],[49,-0.5],[49.5,0.4],[50,-0.3],[50.5,0.6],[51,-0.4],[51.5,0.3],[52,-0.6],[52.5,0.0],[53,-0.4],[53.5,0.5],[54,-0.2],[54.5,0.3],[55,-0.8],[55.5,0.2],[56,-0.1],[57,0.3],[49,1.6],[52,1.3],[54,-1.5],[56,-1.8],
  [72,0.4],[72,0.2],[72,0.0],[72,-0.2],[72,-0.4],[72,-0.6],[72,0.3],[72,-0.1],
  [96,0.7],[96,0.5],[96,0.3],[96,0.1],[96,-0.1],[96,-0.3],[96,-0.5],[96,0.0],
  [160,1.0],[160,-0.5],[160,-1.3],[161,0.6],[161,-0.8],[162,1.4],[162,0.0],[162,-1.0],[163,1.7],[163,0.3],[163,-0.3],[163,-1.6],[164,-1.8],[164,0.8],[164,-0.6],[165,1.2],[165,0.1],[165,-1.1],[166,1.7],[166,-0.2],[166,0.5],[167,-0.9],[167,1.0],[168,2.4],[168,-0.4],[168,0.2],[169,2.6],[169,-1.2],[170,-1.1],[170,0.6],[173,0.2],[161,0.3],[165,-0.5],[167,0.4],[162,-0.4],
  [162,0.6],[164,0.3],[166,-0.7],[168,0.7],[165,0.5],
  [186,-0.55]
];
const azTimeSmoothX = [0, 12, 25, 36, 50, 60, 72, 85, 100, 125, 150, 170, 186];
const azTimeSmoothY = [0.05, 0.1, 0.1, 0.05, -0.05, -0.05, -0.1, 0.0, 0.03, 0.05, 0.0, -0.02, -0.02];

// B. Chloroquine, CWRES vs time
const clTimePairs = [
  [0.2,2.55],[0.3,-2.95],[0.4,1.2],[0.5,-1.9],[0.6,0.4],[0.7,-1.0],[0.8,2.2],[0.9,-0.3],[1.0,0.9],[1.1,-2.1],[1.2,0.1],[1.3,-1.4],[1.4,1.6],[1.5,-0.6],[1.6,0.6],[1.7,-2.2],[1.8,1.3],[1.9,-0.1],[2,0.7],[2.5,-1.2],[3,1.0],[3.5,-0.8],[4,0.3],[4.5,-1.6],[5,2.35],[5.5,0.5],[6,-0.4],[6.5,1.2],[7,-1.0],[7.5,0.8],[8,-1.6],[8.5,0.2],[9,1.4],[9.5,-0.5],[10,0.6],[10.5,-1.2],[11,1.0],[11.5,-0.2],[12,0.4],[12.5,-0.9],[13,1.9],[13.5,0.1],[14,-0.6],[14.5,0.9],[15,-1.4],[15.5,0.5],[16,-1.9],[16.5,0.7],[17,-0.3],[17,0.3],[3,-0.3],[5,-0.8],[7,0.3],[9,-0.9],[11,0.2],[13,-0.4],[15,0.2],[2,-1.7],[4,1.5],[6,1.6],[8,0.9],[10,-0.1],[12,1.4],[14,0.6],[16,-0.8],[0.5,1.8],[1,-1.0],[1.5,0.3],
  [0.5,0.2],[1,0.4],[1.5,-0.3],[2,0.2],[3,0.5],[4,-0.2],[6,0.1],[8,-0.3],[10,0.3],[12,-0.3],[14,0.1],[16,0.2],[1,1.3],[2,-0.8],[4,-1.0],[6,-1.2],[8,1.2],[11,-0.7],[13,0.7],[15,-0.6],
  [24,1.5],[24,0.5],[24,0.2],[24,-0.2],[24,-0.5],[24,-0.9],[24,-1.3],[24,-1.9],[24,-2.7],[24,0.0],[24,-0.7],
  [36,1.2],[36,1.0],[36,0.6],[36,0.3],[36,0.0],[36,-0.3],[36,-0.6],[36,-1.0],[36,-1.9],[36,0.8],[36,-0.2],
  [47,1.2],[47,-0.5],[47,0.4],[47,-1.4],[47.5,2.4],[47.5,-2.2],[48,5.35],[48,4.25],[48,3.5],[48,1.7],[48,-0.8],[48,0.6],[48,-2.4],[49,4.15],[49,2.2],[49,-0.2],[49,-1.6],[49,0.9],[49.5,1.4],[49.5,-2.6],[50,-4.8],[50,0.3],[50,-1.1],[50,2.7],[50.5,-0.5],[50.5,1.1],[51,-4.85],[51,-5.2],[51,-2.8],[51,0.7],[51,2.0],[51.5,-1.3],[51.5,0.1],[52,-5.35],[52,1.5],[52,-0.7],[52,-2.0],[52.5,0.9],[52.5,-1.6],[53,2.3],[53,-0.2],[53,-1.0],[53.5,1.2],[53.5,-2.3],[54,0.4],[54,-0.8],[54,1.8],[54.5,-1.4],[54.5,0.0],[55,2.5],[55,-2.05],[55,0.6],[55.5,-0.5],[55.5,1.3],[56,4.4],[56,3.45],[56,-3.35],[56,-3.9],[56,2.55],[56,-1.2],[56,0.2],[56,1.0],[56.5,-0.3],[56.5,2.0],[57,-4.9],[57,-1.8],[57,0.8],[57,-0.9],[57,1.6],[48,-1.5],[50,1.8],[53,0.5],[55,-1.2],[57,0.0],
  [48,0.1],[48.5,-0.6],[49,0.4],[49.5,-0.3],[50,0.8],[50.5,-0.9],[51,0.3],[51.5,0.8],[52,-0.3],[52.5,0.3],[53,-0.6],[53.5,0.5],[54,-0.1],[54.5,0.8],[55,-0.3],[55.5,0.5],[56,-0.5],[57,0.3],[49,-1.0],[52,2.3],[54,-2.6],[56,-2.3],
  [72,1.7],[72,1.0],[72,0.8],[72,0.5],[72,0.3],[72,0.1],[72,-0.1],[72,-0.4],[72,-0.6],[72,-0.85],[72,0.2],
  [96,1.75],[96,1.4],[96,1.2],[96,0.9],[96,0.6],[96,0.4],[96,0.2],[96,0.0],[96,-0.3],[96,-0.75],[96,-0.85],[96,0.5],
  [160,2.3],[160,-1.1],[160,0.2],[161,2.85],[161,-0.4],[161,-1.7],[162,4.3],[162,1.0],[162,-0.8],[163,4.05],[163,0.5],[163,-1.3],[164,1.8],[164,-0.2],[164,-1.5],[165,0.9],[165,-1.85],[165,0.0],[166,1.4],[166,-0.6],[166,0.3],[167,-1.0],[167,0.7],[168,2.0],[168,-0.3],[168,1.0],[169,-0.7],[169,0.4],[170,-0.6],[170,1.5],[173,0.42],[162,0.1],[164,0.6],[166,-1.2],[168,-1.1],
  [162,-0.2],[164,0.2],[166,0.8],[163,-0.6],[165,0.4],
  [186,-0.4]
];
const clTimeSmoothX = [0, 10, 20, 30, 40, 50, 60, 72, 90, 100, 120, 140, 160, 175, 186];
const clTimeSmoothY = [0.0, -0.05, -0.15, -0.15, -0.08, 0.02, 0.12, 0.2, 0.23, 0.22, 0.15, 0.05, -0.03, -0.08, -0.12];

// reference lines: identity (y = x) and zero
const identityLine = [-20, 20];
const zeroLineX = [-100, 400];
const zeroLineY = [0, 0];

// ---- layout helpers ----
const W = 600, H = 1280;
const BLUE = '#3550a5';
const RED = '#ee2424';
const FONT = 'Liberation Sans, Arial, Helvetica, sans-serif';

function xdom(left, right) { return [left / W, right / W]; }
function ydom(top, bottom) { return [1 - bottom / H, 1 - top / H]; }

function pointsTrace(pairs, n) {
    return {
        x: pairs.map(p => p[0]),
        y: pairs.map(p => p[1]),
        xaxis: 'x' + n, yaxis: 'y' + n,
        mode: 'markers', type: 'scatter',
        marker: {symbol: 'circle-open', size: 5.5, color: BLUE, line: {width: 1.1}},
        hoverinfo: 'skip'
    };
}

function lineTrace(x, y, n, color, width) {
    return {
        x: x, y: y,
        xaxis: 'x' + n, yaxis: 'y' + n,
        mode: 'lines', type: 'scatter',
        line: {color: color, width: width, shape: 'spline', smoothing: 0.6},
        hoverinfo: 'skip'
    };
}

function axis(domain, range, tickvals, hidden, standoff) {
    return {
        domain: domain,
        range: range,
        tickvals: tickvals,
        ticktext: tickvals.map(v => (hidden || []).includes(v) ? '' : String(v).replace('-', '\u2212')),
        ticks: 'outside', ticklen: 8, tickwidth: 1.3, tickcolor: '#000',
        ticklabelstandoff: standoff,
        showline: true, linecolor: '#000', linewidth: 1.4, mirror: 'allticks',
        showgrid: false, zeroline: false,
        tickfont: {family: FONT, size: 16, color: '#000'},
        fixedrange: true
    };
}
function xaxisOf(domain, range, tickvals, hidden) { return axis(domain, range, tickvals, hidden, -4); }
function yaxisOf(domain, range, tickvals, hidden) { return axis(domain, range, tickvals, hidden, 3); }

function axisTitle(text, px, py, vertical) {
    return {
        text: text, xref: 'paper', yref: 'paper',
        x: px / W, y: 1 - py / H, xanchor: 'center', yanchor: 'middle',
        textangle: vertical ? -90 : 0, showarrow: false,
        font: {family: FONT, size: 16, color: '#000'}
    };
}

const traces = [
    pointsTrace(azPopPairs, 1), lineTrace(identityLine, identityLine, 1, '#000', 1.1), lineTrace(azPopSmoothX, azPopSmoothY, 1, RED, 2),
    pointsTrace(clPopPairs, 2), lineTrace(identityLine, identityLine, 2, '#000', 1.1), lineTrace(clPopSmoothX, clPopSmoothY, 2, RED, 2),
    pointsTrace(azIndPairs, 3), lineTrace(identityLine, identityLine, 3, '#000', 1.1), lineTrace(azIndSmoothX, azIndSmoothY, 3, RED, 2),
    pointsTrace(clIndPairs, 4), lineTrace(identityLine, identityLine, 4, '#000', 1.1), lineTrace(clIndSmoothX, clIndSmoothY, 4, RED, 2),
    pointsTrace(azAbsPairs, 5), lineTrace(azAbsSmoothX, azAbsSmoothY, 5, RED, 2),
    pointsTrace(clAbsPairs, 6), lineTrace(clAbsSmoothX, clAbsSmoothY, 6, RED, 2),
    pointsTrace(azTimePairs, 7), lineTrace(zeroLineX, zeroLineY, 7, '#000', 1.3), lineTrace(azTimeSmoothX, azTimeSmoothY, 7, RED, 2),
    pointsTrace(clTimePairs, 8), lineTrace(zeroLineX, zeroLineY, 8, '#000', 1.3), lineTrace(clTimeSmoothX, clTimeSmoothY, 8, RED, 2)
];
// first trace uses plain 'x'/'y'
traces.forEach(t => { if (t.xaxis === 'x1') { t.xaxis = 'x'; t.yaxis = 'y'; } });

const layout = {
    width: W, height: H,
    margin: {l: 0, r: 0, t: 0, b: 0},
    paper_bgcolor: '#fff', plot_bgcolor: '#fff',
    showlegend: false,
    font: {family: FONT, color: '#000'},

    xaxis:  xaxisOf(xdom(52, 272),  [1.70, 7.81], [2, 3, 4, 5, 6, 7]),
    yaxis:  yaxisOf(ydom(46, 267),  [1.93, 8.19], [2, 3, 4, 5, 6, 7, 8], [2]),
    xaxis2: xaxisOf(xdom(370, 592), [1.33, 6.85], [2, 3, 4, 5, 6]),
    yaxis2: yaxisOf(ydom(46, 266),  [0.83, 7.50], [1, 2, 3, 4, 5, 6, 7]),

    xaxis3: xaxisOf(xdom(49, 269),  [1.965, 7.92], [2, 3, 4, 5, 6, 7], [2]),
    yaxis3: yaxisOf(ydom(363, 582), [1.96, 8.19], [2, 3, 4, 5, 6, 7, 8], [2]),
    xaxis4: xaxisOf(xdom(368, 589), [0.70, 6.92], [1, 2, 3, 4, 5, 6]),
    yaxis4: yaxisOf(ydom(361, 582), [0.80, 7.53], [1, 2, 3, 4, 5, 6, 7]),

    xaxis5: xaxisOf(xdom(52, 272),  [1.96, 7.94], [2, 3, 4, 5, 6, 7], [2]),
    yaxis5: yaxisOf(ydom(681, 901), [-0.54, 8.35], [0, 2, 4, 6, 8]),
    xaxis6: xaxisOf(xdom(370, 592), [0.68, 6.90], [1, 2, 3, 4, 5, 6]),
    yaxis6: yaxisOf(ydom(679, 900), [-0.43, 6.92], [0, 2, 4, 6]),

    xaxis7: xaxisOf(xdom(50, 270),  [-12.4, 198.2], [0, 50, 100, 150]),
    yaxis7: yaxisOf(ydom(1004, 1226), [-8.89, 7.26], [-5, 0, 5]),
    xaxis8: xaxisOf(xdom(370, 592), [-12.7, 198.7], [0, 50, 100, 150]),
    yaxis8: yaxisOf(ydom(1004, 1226), [-6.1, 6.14], [-6, -4, -2, 0, 2, 4, 6], [-6, 6]),

    annotations: [
        {
            text: '<b><span style="font-size:27px">A</span>. Azithromycin</b>',
            xref: 'paper', yref: 'paper', x: 166 / W, y: 1 - 16 / H,
            xanchor: 'center', yanchor: 'middle', showarrow: false,
            font: {family: FONT, size: 15, color: '#000'}
        },
        {
            text: '<b><span style="font-size:27px">B</span>. Chloroquine</b>',
            xref: 'paper', yref: 'paper', x: 482 / W, y: 1 - 16 / H,
            xanchor: 'center', yanchor: 'middle', showarrow: false,
            font: {family: FONT, size: 15, color: '#000'}
        },
        axisTitle('Population predictions', 162, 313),
        axisTitle('Population predictions', 481, 314),
        axisTitle('Individual predictions', 159, 632),
        axisTitle('Individual predictions', 478, 630),
        axisTitle('Individual predictions', 162, 950),
        axisTitle('Individual predictions', 481, 948),
        axisTitle('Time', 160, 1272),
        axisTitle('Time', 481, 1272),
        axisTitle('Observations', 8, 156, true),
        axisTitle('Observations', 326, 156, true),
        axisTitle('Observations', 7, 472, true),
        axisTitle('Observations', 326, 471, true),
        axisTitle('|iWRES|', 7, 791, true),
        axisTitle('|iWRES|', 325, 789, true),
        axisTitle('Conditional weighted residuals', 7, 1115, true),
        axisTitle('Conditional weighted residuals', 327, 1115, true)
    ]
};

// axes 1..8 anchor to their partner
for (let i = 1; i <= 8; i++) {
    const s = i === 1 ? '' : String(i);
    layout['xaxis' + s].anchor = 'y' + s;
    layout['yaxis' + s].anchor = 'x' + s;
}

const config = {staticPlot: true, displayModeBar: false};

Plotly.newPlot('graph', traces, layout, config);
</script>
</body>
</html>
